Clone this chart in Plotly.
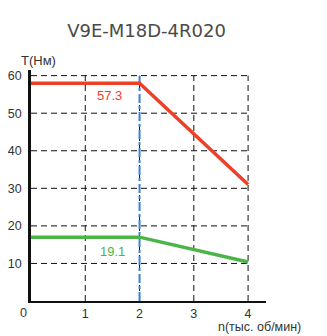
import plotly.graph_objects as go

# Data
speed = [0, 2, 4]                 # n, thousand rpm
torque_peak = [58, 58, 31]        # red curve, N·m
torque_cont = [17, 17, 10.4]      # green curve, N·m
peak_label = "57.3"
cont_label = "19.1"
x_ticks = [1, 2, 3, 4]
y_ticks = [10, 20, 30, 40, 50, 60]
title = "V9E-M18D-4R020"

RED = "#ee4027"
GREEN = "#4bb548"
BLUE = "#3b82d6"
TXT = "#333333"
OFF = 8  # page body margin offset

fig = go.Figure()

# dashed grid
shapes = []
for xv in x_ticks:
    shapes.append(dict(type="line", xref="x", yref="y", x0=xv, x1=xv, y0=0, y1=max(y_ticks),
                       line=dict(color="#111111", width=1, dash="6px,4px"), layer="below"))
for yv in y_ticks:
    shapes.append(dict(type="line", xref="x", yref="y", x0=0, x1=max(x_ticks), y0=yv, y1=yv,
                       line=dict(color="#111111", width=1, dash="6px,4px"), layer="below"))
# blue dash-dot line at rated speed
shapes.append(dict(type="line", xref="x", yref="y", x0=speed[1], x1=speed[1], y0=0, y1=max(y_ticks),
                   line=dict(color=BLUE, width=2, dash="dashdot"), layer="below"))

fig.add_trace(go.Scatter(x=speed, y=torque_peak, mode="lines",
                         line=dict(color=RED, width=3.5), hoverinfo="skip"))
fig.add_trace(go.Scatter(x=speed, y=torque_cont, mode="lines",
                         line=dict(color=GREEN, width=3.5), hoverinfo="skip"))

def ann(text, x, y, ref, color, size=13):
    return dict(text=text, x=x, y=y, xref=ref[0], yref=ref[1], showarrow=False,
                xanchor="center", yanchor="middle",
                font=dict(size=size, color=color, family="Liberation Sans"))

annotations = [
    ann(peak_label, 1.455, 54.7, ("x", "y"), RED),
    ann(cont_label, 1.51, 13.3, ("x", "y"), GREEN),
    ann("T(Нм)", 0.034, 1.043, ("paper", "paper"), TXT),
    ann("n(тыс. об/мин)", 0.974, -0.113, ("paper", "paper"), TXT, 12.5),
    ann("0", -0.034, -0.052, ("paper", "paper"), TXT, 12.5),
]

fig.update_layout(
    width=327, height=336,
    margin=dict(l=31 - OFF, r=61 + OFF, t=70 - OFF, b=35 + OFF, autoexpand=False),
    paper_bgcolor="white", plot_bgcolor="white",
    showlegend=False,
    title=dict(text=title, x=(146.5 - OFF) / 327, xref="container", xanchor="center",
               y=1 - (31 - OFF) / 336, yref="container", yanchor="middle",
               font=dict(size=18, color="#4a4a4a", family="DejaVu Sans")),
    shapes=shapes,
    annotations=annotations,
    xaxis=dict(range=[0, 4.33], tickvals=x_ticks, ticktext=[str(v) for v in x_ticks],
               showgrid=False, zeroline=False, showline=True, linecolor="#111111", linewidth=2,
               ticks="", automargin=False,
               tickfont=dict(size=12.5, color=TXT, family="Liberation Sans"),
               fixedrange=True),
    yaxis=dict(range=[0, 61.5], tickvals=y_ticks, ticktext=[str(v) for v in y_ticks],
               showgrid=False, zeroline=False, showline=True, linecolor="#111111", linewidth=2.5,
               ticks="", ticklabelstandoff=4, automargin=False,
               tickfont=dict(size=12.5, color=TXT, family="Liberation Sans"),
               fixedrange=True),
)

fig.write_html("out.html")
